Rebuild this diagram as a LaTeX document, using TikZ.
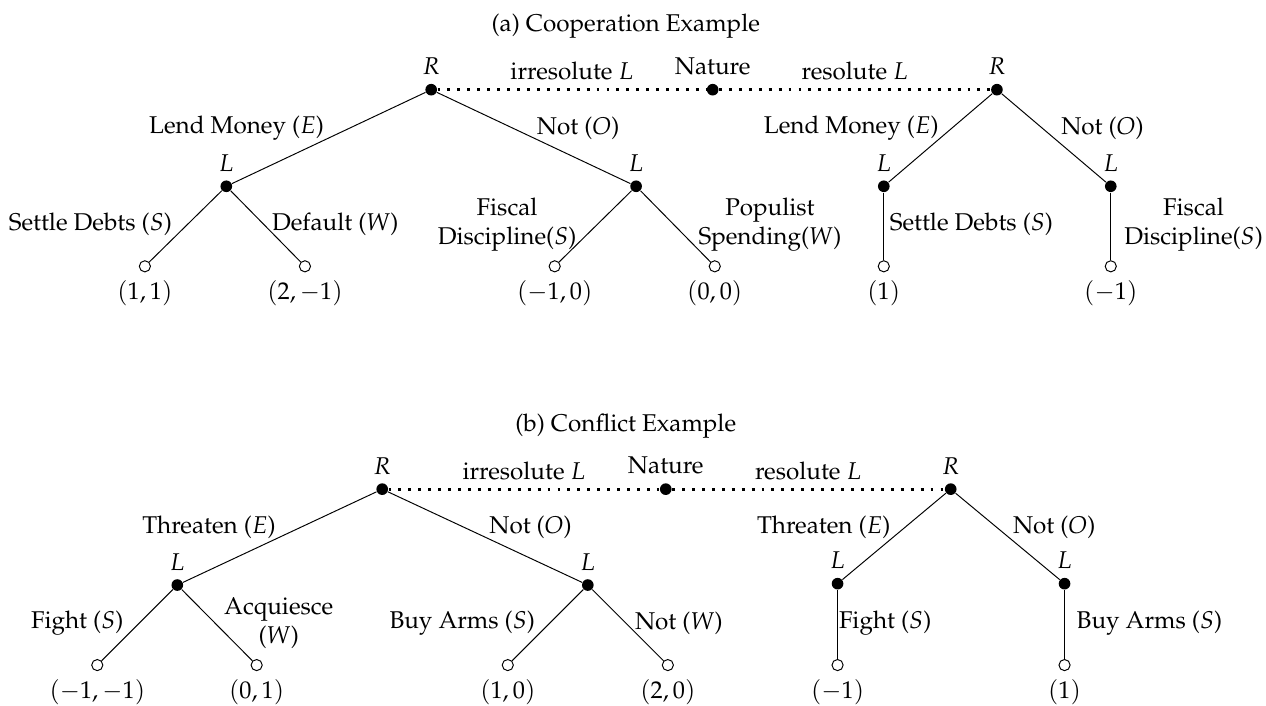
\documentclass[tikz,border=0pt]{standalone}
\usepackage[T1]{fontenc}
\usepackage{mathpazo}

\tikzset{
  dec/.style={circle, fill=black, inner sep=0pt, minimum size=4.8pt},
  term/.style={circle, draw=black, fill=white, inner sep=0pt, minimum size=4.6pt},
  info/.style={line width=1.2pt, dash pattern=on 1.2pt off 2.9pt},
}

\begin{document}
\begin{tikzpicture}

    \useasboundingbox (0,0) rectangle (18.35,-10.22);

    %% (a) Cooperation Example
    \node (aTitle) at (9.07,-0.38) {(a) Cooperation Example};

    % Nature and R
    \node[dec, label=above:$R$] (aR1) at (6.25,-1.30) {};
    \node[dec, label=above:Nature] (aN) at (10.33,-1.30) {};
    \node[dec, label=above:$R$] (aR2) at (14.45,-1.30) {};
    \draw[info] (aR1) -- node[above] {irresolute $L$} (aN);
    \draw[info] (aN) -- node[above] {resolute $L$} (aR2);

    % L moves
    \node[dec, label=above:$L$] (aL1) at (3.28,-2.70) {};
    \node[dec, label=above:$L$] (aL2) at (9.22,-2.70) {};
    \node[dec, label=above:$L$] (aL3) at (12.81,-2.70) {};
    \node[dec, label=above:$L$] (aL4) at (16.10,-2.70) {};
    \draw (aR1) -- (aL1);
    \draw (aR1) -- (aL2);
    \draw (aR2) -- (aL3);
    \draw (aR2) -- (aL4);
    \node (aE1) at (3.43,-1.86) {Lend Money ($E$)};
    \node (aO1) at (8.38,-1.86) {Not ($O$)};
    \node (aE2) at (12.34,-1.86) {Lend Money ($E$)};
    \node (aO2) at (15.98,-1.86) {Not ($O$)};

    % Payoffs
    \node[term, label={below:$(1,1)$}] (aT1) at (2.10,-3.86) {};
    \node[term, label={below:$(2,-1)$}] (aT2) at (4.42,-3.86) {};
    \node[term, label={below:$(-1,0)$}] (aT3) at (8.04,-3.86) {};
    \node[term, label={below:$(0,0)$}] (aT4) at (10.36,-3.86) {};
    \node[term, label={below:$(1)$}] (aT5) at (12.81,-3.86) {};
    \node[term, label={below:$(-1)$}] (aT6) at (16.10,-3.86) {};
    \draw (aL1) -- (aT1);
    \draw (aL1) -- (aT2);
    \draw (aL2) -- (aT3);
    \draw (aL2) -- (aT4);
    \draw (aL3) -- (aT5);
    \draw (aL4) -- (aT6);
    \node (aS1) at (1.31,-3.25) {Settle Debts ($S$)};
    \node (aW1) at (4.86,-3.25) {Default ($W$)};
    \node[align=center] (aS2) at (7.35,-3.25) {Fiscal\\Discipline($S$)};
    \node[align=center] (aW2) at (11.16,-3.25) {Populist\\Spending($W$)};
    \node (aS3) at (14.08,-3.25) {Settle Debts ($S$)};
    \node[align=center] (aS4) at (17.30,-3.25) {Fiscal\\Discipline($S$)};

    %% (b) Conflict Example
    \node (bTitle) at (9.07,-6.17) {(b) Conflict Example};

    % Nature and R
    \node[dec, label=above:$R$] (bR1) at (5.54,-7.09) {};
    \node[dec, label=above:Nature] (bN) at (9.65,-7.09) {};
    \node[dec, label=above:$R$] (bR2) at (13.78,-7.09) {};
    \draw[info] (bR1) -- node[above] {irresolute $L$} (bN);
    \draw[info] (bN) -- node[above] {resolute $L$} (bR2);

    % L moves
    \node[dec, label=above:$L$] (bL1) at (2.57,-8.48) {};
    \node[dec, label=above:$L$] (bL2) at (8.52,-8.48) {};
    \node[dec, label=above:$L$] (bL3) at (12.14,-8.46) {};
    \node[dec, label=above:$L$] (bL4) at (15.43,-8.46) {};
    \draw (bR1) -- (bL1);
    \draw (bR1) -- (bL2);
    \draw (bR2) -- (bL3);
    \draw (bR2) -- (bL4);
    \node (bE1) at (3.03,-7.64) {Threaten ($E$)};
    \node (bO1) at (7.69,-7.64) {Not ($O$)};
    \node (bE2) at (11.94,-7.64) {Threaten ($E$)};
    \node (bO2) at (15.28,-7.64) {Not ($O$)};

    % Payoffs
    \node[term, label={below:$(-1,-1)$}] (bT1) at (1.41,-9.64) {};
    \node[term, label={below:$(0,1)$}] (bT2) at (3.72,-9.64) {};
    \node[term, label={below:$(1,0)$}] (bT3) at (7.36,-9.64) {};
    \node[term, label={below:$(2,0)$}] (bT4) at (9.68,-9.64) {};
    \node[term, label={below:$(-1)$}] (bT5) at (12.14,-9.64) {};
    \node[term, label={below:$(1)$}] (bT6) at (15.43,-9.64) {};
    \draw (bL1) -- (bT1);
    \draw (bL1) -- (bT2);
    \draw (bL2) -- (bT3);
    \draw (bL2) -- (bT4);
    \draw (bL3) -- (bT5);
    \draw (bL4) -- (bT6);
    \node (bS1) at (1.12,-9.03) {Fight ($S$)};
    \node[align=center] (bW1) at (4.04,-9.03) {Acquiesce\\($W$)};
    \node (bS2) at (6.70,-9.03) {Buy Arms ($S$)};
    \node (bW2) at (9.84,-9.03) {Not ($W$)};
    \node (bS3) at (12.83,-9.03) {Fight ($S$)};
    \node (bS4) at (16.66,-9.03) {Buy Arms ($S$)};

\end{tikzpicture}
\end{document}
